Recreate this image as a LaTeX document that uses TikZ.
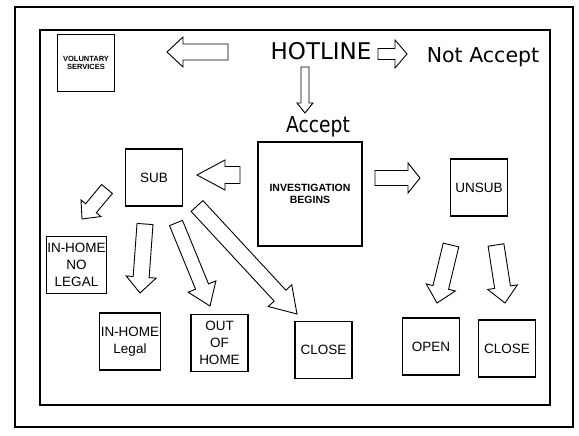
\documentclass[tikz,border=0pt]{standalone}
\usepackage{fontspec}
\setmainfont{Liberation Sans}
\newfontfamily\headfont{DejaVu Sans}
\usetikzlibrary{calc}

\tikzset{
  box/.style={draw, line width=1.1pt, minimum width=57pt, minimum height=57pt,
    inner sep=1pt, align=center, font=\fontsize{13.5}{17}\selectfont},
  head/.style={anchor=base, inner sep=0pt, font=\headfont\fontsize{23}{28}\selectfont},
  arrowline/.style={draw, line width=0.9pt, line join=miter}
}

\begin{document}
\begin{tikzpicture}[x=1pt, y=-1pt]
\useasboundingbox (0,0) rectangle (579,436);
% frames
\draw[line width=2.2pt] (15,7) rectangle (573,427);
\draw[line width=1.6pt] (40,30) rectangle (550,405);

% headings
\node[head] (hotline) at (321,60) {HOTLINE};
\node[head, font=\headfont\fontsize{20.5}{24}\selectfont] (notaccept) at (483,63) {Not Accept};
\node[head, xscale=.85, font=\headfont\fontsize{22}{26}\selectfont] (accept) at (318,132) {Accept};

% boxes
\node[box, font=\bfseries\fontsize{7.5}{8}\selectfont] (vs) at (86,63) {VOLUNTARY\\SERVICES};
\node[box] (sub) at (154,177.5) {SUB};
\node[box, minimum width=104pt, minimum height=104pt,
  font=\bfseries\fontsize{10.5}{12}\selectfont] (inv) at (310,194) {INVESTIGATION\\BEGINS};
\node[box] (unsub) at (479,187.5) {UNSUB};
\node[box] (nolegal) at (76.5,265) {IN-HOME\\NO\\LEGAL};
\node[box] (legal) at (130,341.5) {IN-HOME\\Legal};
\node[box] (outhome) at (219.5,343) {OUT\\OF\\HOME};
\node[box] (closea) at (323.5,350) {CLOSE};
\node[box] (open) at (431,346.5) {OPEN};
\node[box] (closeb) at (507,348.5) {CLOSE};

% arrow ends
\path (228,52) coordinate (vsT) (167,52) coordinate (vsP)
      (378,54) coordinate (naT) (407,54) coordinate (naP)
      (305,67) coordinate (acT) (305,113) coordinate (acP)
      (240,175) coordinate (sbT) (197,175) coordinate (sbP)
      (375,178) coordinate (usT) (420,178) coordinate (usP)
      (107,189) coordinate (nlT) (82,219) coordinate (nlP)
      (145,224) coordinate (lgT) (140,293) coordinate (lgP)
      (176,223) coordinate (ohT) (210,306) coordinate (ohP)
      (197,206) coordinate (caT) (297,314) coordinate (caP)
      (451,245) coordinate (opT) (437,303) coordinate (opP)
      (496,245) coordinate (cbT) (505,303) coordinate (cbP);

% block arrows: tail/tip/shaft/head/head length
\foreach \ta/\tp/\sw/\hw/\hl in {vsT/vsP/8/15/16, naT/naP/5.5/14/12, acT/acP/4/8/10,
    sbT/sbP/8.5/15/28, usT/usP/7.5/15/12, nlT/nlP/7/13/14, lgT/lgP/8/15/16,
    ohT/ohP/7/15/21, caT/caP/8/16/25, opT/opP/8/15/16, cbT/cbP/8/15/16}{
  \coordinate (ah) at ($(\tp)!\hl pt!(\ta)$);
  \draw[arrowline] ($(\ta)!\sw pt!90:(\tp)$) -- ($(ah)!\sw pt!90:(\tp)$)
    -- ($(ah)!\hw pt!90:(\tp)$) -- (\tp) -- ($(ah)!\hw pt!-90:(\tp)$)
    -- ($(ah)!\sw pt!-90:(\tp)$) -- ($(\ta)!\sw pt!-90:(\tp)$) -- cycle;
}
\end{tikzpicture}
\end{document}
